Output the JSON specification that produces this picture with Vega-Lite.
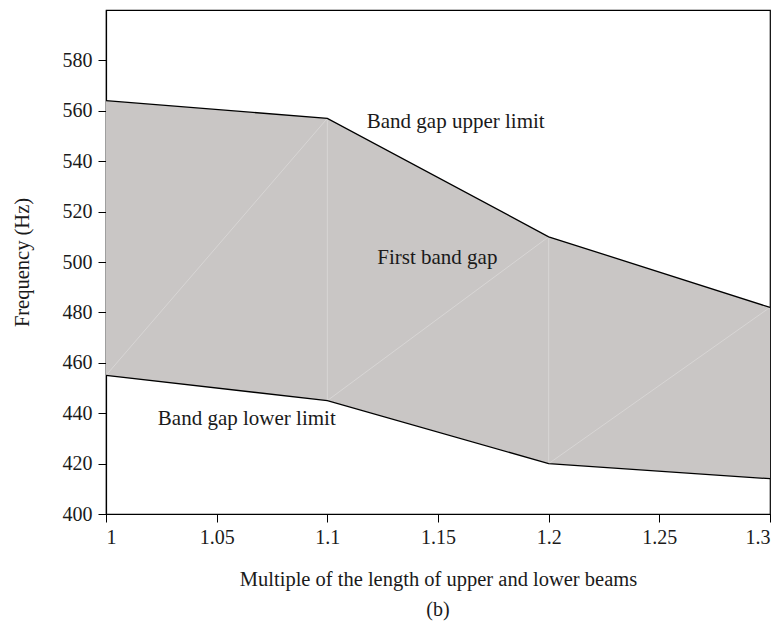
{
  "$schema": "https://vega.github.io/schema/vega-lite/v6.json",
  "autosize": "none",
  "width": 664,
  "height": 504,
  "padding": {"left": 106, "top": 10, "right": 14, "bottom": 121},
  "background": "white",
  "config": {
    "font": "Liberation Serif",
    "view": {"stroke": "black", "strokeWidth": 1.2},
    "axis": {"grid": false, "domainColor": "black", "tickColor": "black", "labelColor": "#1a1a1a", "titleColor": "#1a1a1a", "labelFont": "Liberation Serif", "titleFont": "Liberation Serif", "labelFontSize": 20, "titleFontSize": 20.5, "titleFontWeight": "normal", "tickSize": 8, "domainWidth": 1.2}
  },
  "title": {"text": "(b)", "orient": "bottom", "font": "Liberation Serif", "fontSize": 20, "fontWeight": "normal", "color": "#1a1a1a", "offset": 10},
  "datasets": {
    "band": [
      {"x": 1.0, "upper": 564, "lower": 455},
      {"x": 1.1, "upper": 557, "lower": 445},
      {"x": 1.2, "upper": 510, "lower": 420},
      {"x": 1.3, "upper": 482, "lower": 414}
    ],
    "mesh": [
      {"x": 1.0, "y": 455, "x2": 1.1, "y2": 557},
      {"x": 1.1, "y": 445, "x2": 1.1, "y2": 557},
      {"x": 1.1, "y": 445, "x2": 1.2, "y2": 510},
      {"x": 1.2, "y": 420, "x2": 1.2, "y2": 510},
      {"x": 1.2, "y": 420, "x2": 1.3, "y2": 482}
    ],
    "labels": [
      {"x": 1.158, "y": 555.4, "text": "Band gap upper limit"},
      {"x": 1.1497, "y": 501.5, "text": "First band gap"},
      {"x": 1.0636, "y": 437.7, "text": "Band gap lower limit"}
    ]
  },
  "layer": [
    {
      "data": {"name": "band"},
      "mark": {"type": "area", "color": "#c9c6c5", "opacity": 1},
      "encoding": {
        "x": {"field": "x", "type": "quantitative", "scale": {"domain": [1, 1.3], "nice": false, "zero": false}, "axis": {"values": [1, 1.05, 1.1, 1.15, 1.2, 1.25, 1.3], "format": "~g", "title": "Multiple of the length of upper and lower beams", "titlePadding": 22, "labelPadding": 5}},
        "y": {"field": "upper", "type": "quantitative", "scale": {"domain": [400, 600], "nice": false, "zero": false}, "axis": {"values": [400, 420, 440, 460, 480, 500, 520, 540, 560, 580], "title": "Frequency (Hz)", "titlePadding": 30, "labelPadding": 6}},
        "y2": {"field": "lower"}
      }
    },
    {
      "data": {"name": "mesh"},
      "mark": {"type": "rule", "color": "white", "strokeWidth": 0.8, "opacity": 0.35},
      "encoding": {
        "x": {"field": "x", "type": "quantitative"},
        "y": {"field": "y", "type": "quantitative"},
        "x2": {"field": "x2"},
        "y2": {"field": "y2"}
      }
    },
    {
      "data": {"name": "band"},
      "mark": {"type": "line", "color": "black", "strokeWidth": 1.3},
      "encoding": {
        "x": {"field": "x", "type": "quantitative"},
        "y": {"field": "upper", "type": "quantitative"}
      }
    },
    {
      "data": {"name": "band"},
      "mark": {"type": "line", "color": "black", "strokeWidth": 1.3},
      "encoding": {
        "x": {"field": "x", "type": "quantitative"},
        "y": {"field": "lower", "type": "quantitative"}
      }
    },
    {
      "data": {"name": "labels"},
      "mark": {"type": "text", "font": "Liberation Serif", "fontSize": 21, "color": "#1a1a1a", "align": "center", "baseline": "middle"},
      "encoding": {
        "x": {"field": "x", "type": "quantitative"},
        "y": {"field": "y", "type": "quantitative"},
        "text": {"field": "text"}
      }
    }
  ]
}
